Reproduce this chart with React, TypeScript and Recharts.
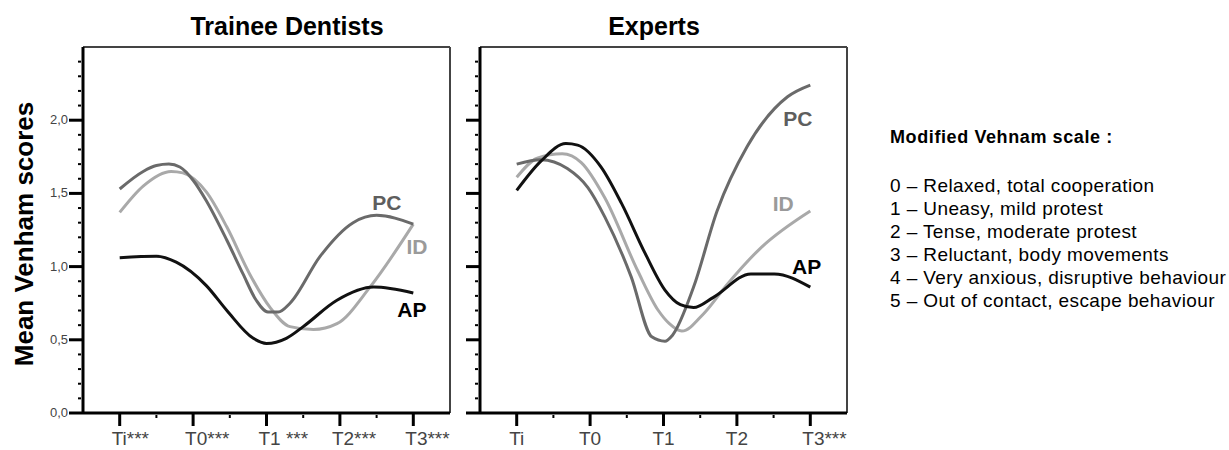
import React from "react";
import { Label, Line, LineChart, ReferenceDot, ReferenceLine, XAxis, YAxis } from "recharts";

// time points Ti..T3 sit at 0..4 on a numeric axis, so the curves can carry in-between samples
const timeTicks = [0, 0.5, 1, 1.5, 2, 2.5, 3, 3.5, 4];
const traineeLabels = ["Ti***", "T0***", "T1 ***", "T2***", "T3***"];
const expertLabels = ["Ti", "T0", "T1", "T2", "T3***"];
const scoreTicks = Array.from({ length: 25 }, (_, i) => i / 10);

// [time, mean Venham score]
const traineePC = [
  [0, 1.53], [0.32, 1.65], [0.5, 1.69], [0.67, 1.7], [0.82, 1.68], [1, 1.59], [1.18, 1.45],
  [1.46, 1.18], [1.68, 0.95], [1.86, 0.77], [2.02, 0.69], [2.16, 0.69], [2.32, 0.75],
  [2.73, 1.07], [3.18, 1.3], [3.5, 1.35], [4, 1.29],
];
const traineeID = [
  [0, 1.37], [0.32, 1.55], [0.7, 1.65], [0.86, 1.64], [1.18, 1.51], [1.46, 1.27], [1.77, 0.95],
  [2.05, 0.72], [2.32, 0.59], [2.64, 0.57], [2.96, 0.61], [3.41, 0.86], [4, 1.29],
];
const traineeAP = [
  [0, 1.06], [0.5, 1.07], [0.77, 1.03], [1.18, 0.87], [1.46, 0.7], [1.82, 0.51], [2, 0.475],
  [2.27, 0.51], [2.5, 0.59], [2.96, 0.77], [3.46, 0.86], [4, 0.82],
];
const expertAP = [
  [0, 1.52], [0.33, 1.72], [0.67, 1.84], [0.83, 1.83], [1.15, 1.68], [1.43, 1.43], [1.75, 1.09],
  [2.02, 0.84], [2.23, 0.74], [2.41, 0.72], [2.68, 0.79], [3.19, 0.95], [3.51, 0.95], [4, 0.86],
];
const expertID = [
  [0, 1.61], [0.28, 1.74], [0.62, 1.77], [0.88, 1.71], [1.2, 1.47], [1.65, 0.97], [1.93, 0.7],
  [2.08, 0.61], [2.25, 0.56], [2.55, 0.68], [2.87, 0.88], [3.33, 1.13], [4, 1.38],
];
const expertPC = [
  [0, 1.7], [0.33, 1.73], [0.69, 1.67], [0.97, 1.54], [1.2, 1.34], [1.56, 0.93], [1.84, 0.52],
  [2.02, 0.49], [2.12, 0.53], [2.41, 0.86], [2.73, 1.38], [3.14, 1.82], [3.69, 2.16], [4, 2.24],
];

// where the series names sit, in data units
const traineeTags = { PC: [3.64, 1.44], ID: [4.05, 1.14], AP: [3.98, 0.71] };
const expertTags = { PC: [3.83, 2.01], ID: [3.63, 1.43], AP: [3.95, 1.0] };

const scaleTitle = "Modified Vehnam scale :";
const scaleItems = [
  "0 – Relaxed, total cooperation",
  "1 – Uneasy, mild protest",
  "2 – Tense, moderate protest",
  "3 – Reluctant, body movements",
  "4 – Very anxious, disruptive behaviour",
  "5 – Out of contact, escape behaviour",
];

const colors = { PC: "#6a6a6a", ID: "#a9a9a9", AP: "#111111" };
const tagColors = { PC: "#5e5e5e", ID: "#9a9a9a", AP: "#000000" };

const toRows = (pts: number[][]) => pts.map(([t, v]) => ({ t, v }));

function YTick(props: any) {
  const { x, y, payload, showLabels } = props;
  const v = payload.value;
  const major = Math.round(v * 10) % 5 === 0;
  if (!major) {
    return <line x1={x - 5} x2={x - 2} y1={y} y2={y} stroke="#000" strokeWidth={2} />;
  }
  return (
    <g>
      <line x1={x - 14} x2={x} y1={y} y2={y} stroke="#000" strokeWidth={3} />
      {showLabels && (
        <text x={x - 15} y={y + 4} textAnchor="end" fontSize={13} fill="#444">
          {v.toFixed(1).replace(".", ",")}
        </text>
      )}
    </g>
  );
}

function XTick(props: any) {
  const { x, y, payload, labels } = props;
  const v = payload.value;
  if (!Number.isInteger(v)) {
    return <line x1={x} x2={x} y1={y + 2} y2={y + 5} stroke="#000" strokeWidth={2} />;
  }
  const text: string = labels[v];
  const starred = text.includes("*");
  return (
    <g>
      <line x1={x} x2={x} y1={y} y2={y + 13} stroke="#000" strokeWidth={3} />
      <text
        x={starred ? x - 8 : x}
        y={y + 32}
        textAnchor={starred ? "start" : "middle"}
        fontSize={19}
        fill="#444"
      >
        {text}
      </text>
    </g>
  );
}

function Panel({
  width,
  axisWidth,
  labels,
  showScores,
  pc,
  id,
  ap,
  tags,
}: {
  width: number;
  axisWidth: number;
  labels: string[];
  showScores: boolean;
  pc: number[][];
  id: number[][];
  ap: number[][];
  tags: Record<string, number[]>;
}) {
  const series = [
    { key: "ID", pts: id },
    { key: "PC", pts: pc },
    { key: "AP", pts: ap },
  ];
  return (
    <LineChart width={width} height={450} margin={{ top: 47, right: 10, bottom: 7, left: 0 }}>
      <XAxis
        dataKey="t"
        type="number"
        domain={[-0.5, 4.5]}
        ticks={timeTicks}
        interval={0}
        height={30}
        tickSize={0}
        tickMargin={0}
        tickLine={false}
        axisLine={{ stroke: "#000", strokeWidth: 3 }}
        tick={(p: any) => <XTick {...p} labels={labels} />}
      />
      <YAxis
        type="number"
        domain={[0, 2.5]}
        ticks={scoreTicks}
        interval={0}
        width={axisWidth}
        tickSize={0}
        tickMargin={0}
        tickLine={false}
        axisLine={{ stroke: "#000", strokeWidth: 3 }}
        tick={(p: any) => <YTick {...p} showLabels={showScores} />}
      />
      <ReferenceLine y={2.5} stroke="#444" strokeWidth={2} />
      <ReferenceLine x={4.5} stroke="#444" strokeWidth={2} />
      {series.map((s) => (
        <Line
          key={s.key}
          data={toRows(s.pts)}
          dataKey="v"
          type="monotone"
          stroke={colors[s.key as keyof typeof colors]}
          strokeWidth={3}
          dot={false}
          activeDot={false}
          isAnimationActive={false}
        />
      ))}
      {series.map((s) => (
        <ReferenceDot
          key={"tag" + s.key}
          x={tags[s.key][0]}
          y={tags[s.key][1]}
          r={0}
          stroke="none"
          label={
            <Label
              value={s.key}
              position="center"
              fill={tagColors[s.key as keyof typeof tagColors]}
              fontSize={21}
              fontWeight="bold"
            />
          }
        />
      ))}
    </LineChart>
  );
}

export default function App() {
  return (
    <div
      style={{
        position: "absolute",
        left: 0,
        top: 0,
        width: 1229,
        height: 450,
        background: "#fff",
        fontFamily: "'Liberation Sans', Arial, sans-serif",
        color: "#000",
      }}
    >
      <div style={{ position: "absolute", left: 0, top: 0 }}>
        <Panel width={460} axisWidth={83} labels={traineeLabels} showScores pc={traineePC} id={traineeID} ap={traineeAP} tags={traineeTags} />
      </div>
      <div style={{ position: "absolute", left: 400, top: 0 }}>
        <Panel width={457} axisWidth={80} labels={expertLabels} showScores={false} pc={expertPC} id={expertID} ap={expertAP} tags={expertTags} />
      </div>

      <div style={{ position: "absolute", left: 137, top: 11, width: 300, textAlign: "center", fontSize: 25, lineHeight: "30px", fontWeight: "bold" }}>
        Trainee Dentists
      </div>
      <div style={{ position: "absolute", left: 504, top: 11, width: 300, textAlign: "center", fontSize: 25, lineHeight: "30px", fontWeight: "bold" }}>
        Experts
      </div>

      <svg width={60} height={450} style={{ position: "absolute", left: 0, top: 0 }}>
        <text x={33} y={234} transform="rotate(-90 33 234)" textAnchor="middle" fontSize={26} fontWeight="bold">
          Mean Venham scores
        </text>
      </svg>

      <div style={{ position: "absolute", left: 890, top: 126, fontSize: 18, lineHeight: "22px", fontWeight: "bold", letterSpacing: 0.6, whiteSpace: "nowrap" }}>
        {scaleTitle}
      </div>
      <div style={{ position: "absolute", left: 890, top: 174, fontSize: 19, lineHeight: "23px", letterSpacing: 0.4, whiteSpace: "nowrap" }}>
        {scaleItems.map((s) => (
          <div key={s}>{s}</div>
        ))}
      </div>
    </div>
  );
}
